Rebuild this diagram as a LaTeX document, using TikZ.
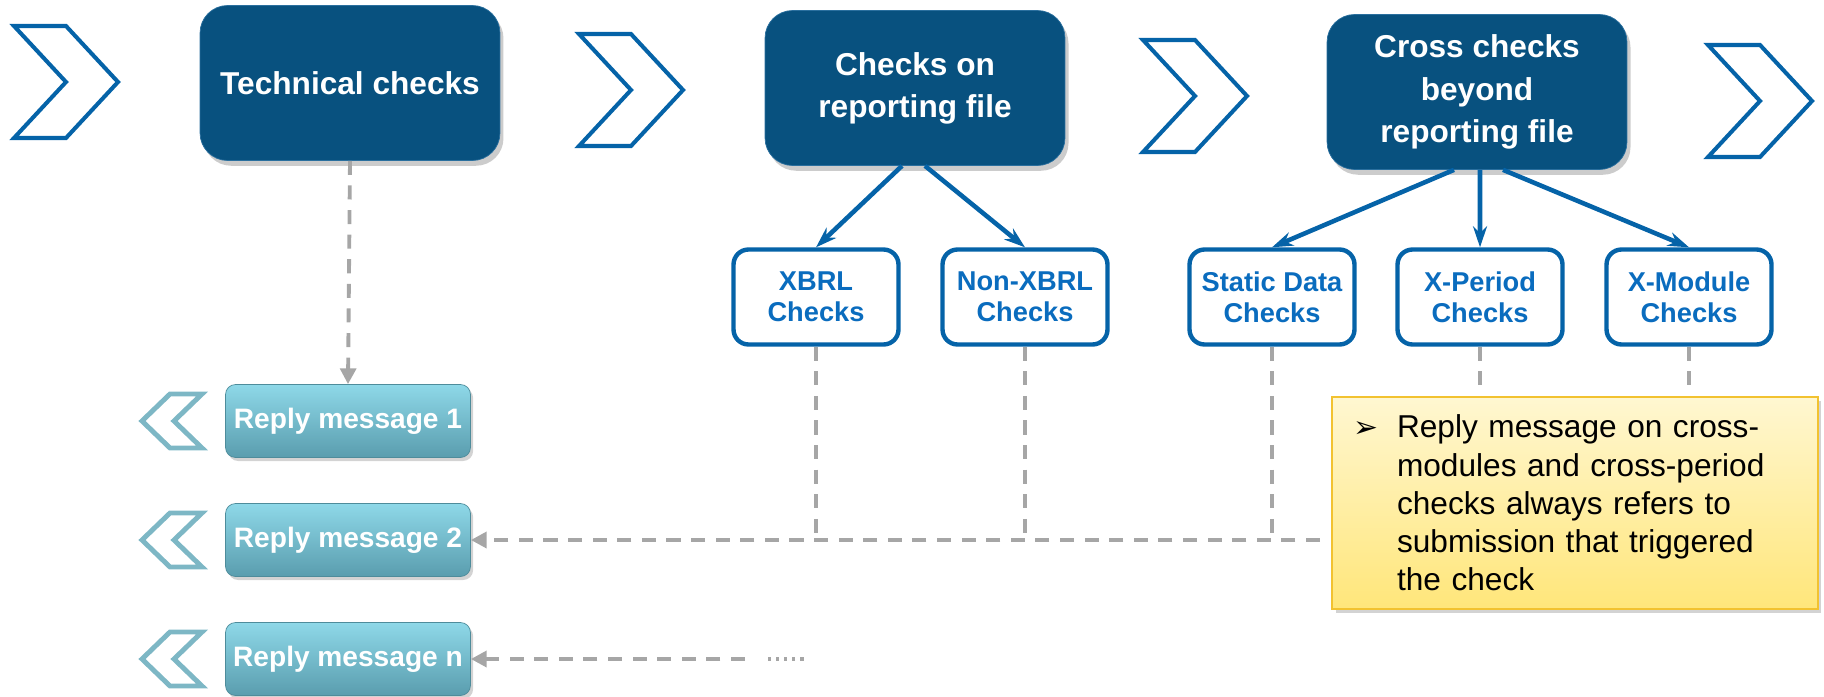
\documentclass[tikz,border=0pt]{standalone}
\usepackage{fontspec}
\setmainfont{Liberation Sans}
\newfontfamily\symfont{DejaVu Sans}
\usetikzlibrary{positioning,shadows,arrows.meta}

\definecolor{stagefill}{HTML}{08517F}
\definecolor{stageline}{HTML}{2A6F9E}
\definecolor{checkblue}{HTML}{0563A8}
\definecolor{checktext}{HTML}{0A6CBE}
\definecolor{replytop}{HTML}{8ED8E8}
\definecolor{replybot}{HTML}{5A9DAE}
\definecolor{replyline}{HTML}{4E8C9B}
\definecolor{backteal}{HTML}{7DB7C5}
\definecolor{flowgray}{HTML}{A6A6A6}
\definecolor{notetop}{HTML}{FFF7D1}
\definecolor{notebot}{HTML}{FFE67A}
\definecolor{noteline}{HTML}{F2C230}

\tikzset{
  stage/.style={draw=stageline, fill=stagefill, rounded corners=0.55cm,
    minimum width=6cm, minimum height=3.1cm, text=white, align=center,
    font=\bfseries\fontsize{18}{24}\selectfont,
    drop shadow={opacity=0.4, shadow xshift=2pt, shadow yshift=-3pt}},
  check/.style={draw=checkblue, line width=2.5pt, fill=white, rounded corners=0.3cm,
    minimum width=3.3cm, minimum height=1.9cm, text=checktext, align=center,
    font=\bfseries\fontsize{15.5}{17.5}\selectfont},
  reply/.style={draw=replyline, top color=replytop, bottom color=replybot,
    rounded corners=0.2cm, minimum width=4.9cm, minimum height=1.46cm, text=white,
    font=\bfseries\fontsize{16}{18}\selectfont,
    drop shadow={opacity=0.35, shadow xshift=1.5pt, shadow yshift=-2pt}},
  note/.style={draw=noteline, line width=0.8pt, top color=notetop, bottom color=notebot,
    minimum width=9.72cm, minimum height=4.24cm, text width=8.88cm, inner xsep=0.42cm,
    align=left, font=\fontsize{18}{21.8}\selectfont,
    drop shadow={opacity=0.35, shadow xshift=2pt, shadow yshift=-2pt}},
  branch/.style={-{Stealth[length=12pt,width=8pt]}, draw=checkblue, line width=2.6pt},
  flow/.style={draw=flowgray, line width=2.2pt, dash pattern=on 8pt off 6pt},
  fwd/.style={draw=checkblue, line width=2.3pt},
  back/.style={draw=backteal, line width=2.8pt},
  fwd chevron/.pic={\draw[fwd] (-52,-56) -- (0,-56) -- (52,0) -- (0,56) -- (-52,56) -- (0,0) -- cycle;},
  back chevron/.pic={\draw[back] (30,-27) -- (-2,-27) -- (-30,0) -- (-2,27) -- (30,27) -- (2,0) -- cycle;}
}

\begin{document}
\begin{tikzpicture}[x=0.02cm, y=-0.02cm, >=stealth]

\useasboundingbox (0,0) rectangle (1824,696);

% Stage chevrons
\foreach \x/\y in {66/82, 631/90, 1195/96, 1760/101}
  \pic at (\x,\y) {fwd chevron};

% Stage boxes
\node [stage] (tech) at (350,83) {Technical checks};
\node [stage] (onfile) at (915,88) {Checks on\\reporting file};
\node [stage] (cross) at (1477,92) {Cross checks\\beyond\\reporting file};

% Check boxes
\foreach \m/\x/\l in {xbrl/816/XBRL, nonxbrl/1025/Non-XBRL, static/1272/Static Data,
                      period/1480/X-Period, module/1689/X-Module}
  \node [check] (\m) at (\x,297) {\l\\Checks};

% Stages to check boxes
\draw [branch] ([xshift=-0.26cm]onfile.south) -- (xbrl.north);
\draw [branch] ([xshift=0.2cm]onfile.south) -- (nonxbrl.north);
\draw [branch] ([xshift=-0.46cm]cross.south) -- (static.north);
\draw [branch] ([xshift=0.06cm]cross.south) -- (period.north);
\draw [branch] ([xshift=0.52cm]cross.south) -- (module.north);

% Reply messages
\foreach \m/\y in {1/421, 2/540, n/659} {
  \node [reply] (reply-\m) at (348,\y) {Reply message \m};
  \pic at (172,\y) {back chevron};
}

% Replies from the checks
\draw [flow, -{Triangle[length=9pt,width=9pt]}] (tech.south) -- (reply-1.north);
\foreach \m in {xbrl, nonxbrl, static, period, module}
  \draw [flow] (\m.south) -- (\m.south |- reply-2.east);
\draw [flow, -{Triangle[length=9pt,width=9pt]}] (module.south |- reply-2.east) -- (reply-2.east);

\coordinate (more) at (745,659);
\coordinate (dots-start) at (768,659);
\coordinate (dots-end) at (808,659);
\draw [flow, -{Triangle[length=9pt,width=9pt]}] (more) -- (reply-n.east);
\draw [draw=flowgray, line width=1.8pt, dash pattern=on 1.8pt off 2.8pt] (dots-start) -- (dots-end);

% Remark
\node [note] (remark) at (1575,503)
  {\makebox[0.88cm][l]{\symfont\fontsize{17}{17}\selectfont ➢}Reply message on cross-\\
   \hspace*{0.88cm}modules and cross-period\\
   \hspace*{0.88cm}checks always refers to\\
   \hspace*{0.88cm}submission that triggered\\
   \hspace*{0.88cm}the check};

\end{tikzpicture}
\end{document}
